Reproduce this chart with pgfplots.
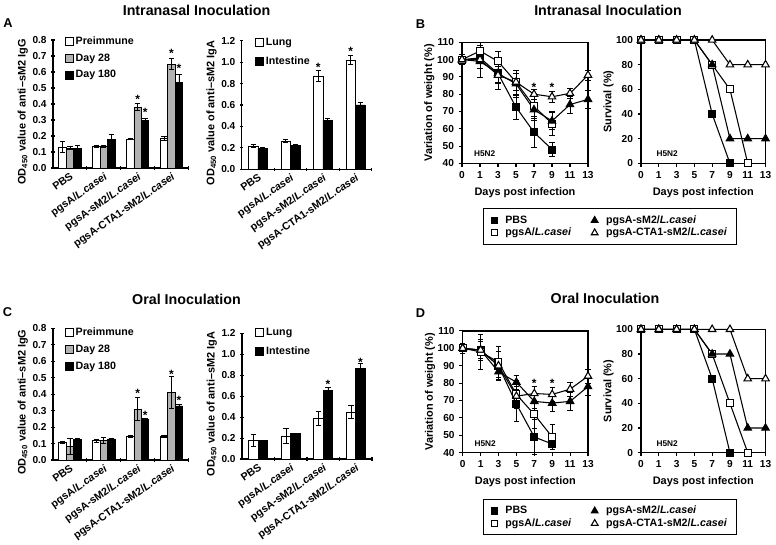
\documentclass[border=0pt]{standalone}
\usepackage{pgfplots}
\pgfplotsset{compat=1.18}
\usepackage{fontspec}
\setmainfont{Liberation Sans}
\definecolor{bargray}{RGB}{178,178,178}
\newcommand{\Lc}{\textit{L.casei}}
\newcommand{\fT}{\fontsize{10.7}{12}\selectfont\bfseries}
\newcommand{\fL}{\fontsize{8.2}{9.5}\selectfont\bfseries}
\newcommand{\fK}{\fontsize{7.6}{9}\selectfont\bfseries}
\newcommand{\fG}{\fontsize{8}{9}\selectfont\bfseries}
\newcommand{\fS}{\fontsize{6.2}{7}\selectfont\bfseries}
\pgfplotsset{
  base/.style={scale only axis, clip=false,
    tick label style={font=\fK},
    /pgf/number format/assume math mode=true,
    label style={font=\fL},
    tick align=outside, major tick length=2.5pt, minor tick length=2.5pt,
    tick style={black, line width=0.8pt},
    axis line style={line width=0.9pt},
  },
  barax/.style={base, axis lines=left, axis line style={-},
    xmin=-0.5, xmax=3.5, ymin=0,
    xtick={0,1,2,3},
    xticklabels={PBS,pgsA/\Lc,pgsA-sM2/\Lc,pgsA-CTA1-sM2/\Lc},
    major x tick style={draw=none},
    minor xtick={0.5,1.5,2.5,3.5},
    xticklabel style={rotate=35, anchor=north east, inner sep=1pt, font=\fG},
    yticklabel style={/pgf/number format/fixed, /pgf/number format/fixed zerofill, /pgf/number format/precision=1},
    ylabel style={yshift=-3.5pt, xshift=-6pt},
    legend style={draw=none, fill=none, font=\fG, anchor=north west, inner sep=0pt, row sep=2.5pt, nodes={inner sep=1.5pt}},
    legend cell align=left,
    legend image code/.code={\draw[##1, line width=0.7pt] (0pt,-3pt) rectangle (6pt,3pt);},
  },
  bb/.style={ybar, bar width=#1, bar shift=0pt, draw=black, line width=0.6pt,
    error bars/.cd, y dir=both, y explicit,
    error bar style={line width=0.6pt, black},
    error mark options={rotate=90, mark size=2pt, line width=0.6pt, black},
    /pgfplots/.cd},
  star/.style={draw=none, mark=none, forget plot, nodes near coords={*},
    every node near coord/.append style={anchor=center, inner sep=0pt, font=\fontsize{9}{9}\selectfont\bfseries}},
  lineax/.style={base, xmin=0, xmax=7, xtick={0,1,2,3,4,5,6,7},
    xticklabels={0,1,3,5,7,9,11,13}, tick pos=left,
    xlabel={Days post infection}, ylabel style={yshift=-5pt}},
  wax/.style={lineax, ymin=40, ymax=110, ytick={40,50,60,70,80,90,100,110},
    ylabel={Variation of weight (\%)}},
  sax/.style={lineax, ymin=0, ymax=100, ytick={0,20,40,60,80,100},
    ylabel={Survival (\%)}},
  ln/.style={black, line width=0.8pt, forget plot,
    error bars/.cd, y dir=both, y explicit,
    error bar style={line width=0.6pt, black},
    error mark options={rotate=90, mark size=2pt, line width=0.6pt, black},
    /pgfplots/.cd},
  fsq/.style={ln, mark=square*, mark size=2.6pt, mark options={fill=black}},
  osq/.style={ln, mark=square*, mark size=2.6pt, mark options={fill=white}},
  ftr/.style={ln, mark=triangle*, mark size=3.2pt, mark options={fill=black}},
  otr/.style={ln, mark=triangle*, mark size=3.2pt, mark options={fill=white}},
  markleg/.style={legend image code/.code={\draw[##1] plot coordinates {(3pt,0pt)};}},
  linelegend/.style={legend columns=2, transpose legend, legend cell align=left,
    legend style={draw=black, line width=0.8pt, fill=white, font=\fG,
      inner xsep=6pt, inner ysep=4pt, row sep=0pt, nodes={inner sep=1pt},
      /tikz/every odd column/.append style={column sep=5pt},
      /tikz/every even column/.append style={column sep=14pt}}},
}
\begin{document}
\begin{tikzpicture}
\useasboundingbox (0pt,0pt) rectangle (582pt,408pt);
% titles and letters
\node[font=\fT] at (147.4pt,400.5pt) {Intranasal Inoculation};
\node[font=\fT] at (456pt,400.5pt) {Intranasal Inoculation};
\node[font=\fT] at (139.9pt,183.75pt) {Oral Inoculation};
\node[font=\fT] at (453.75pt,184.5pt) {Oral Inoculation};
\node[font=\fontsize{9.6}{11}\selectfont\bfseries] at (6pt,391pt) {A};
\node[font=\fontsize{9.6}{11}\selectfont\bfseries] at (315.4pt,390pt) {B};
\node[font=\fontsize{9.6}{11}\selectfont\bfseries] at (5.6pt,173.6pt) {C};
\node[font=\fontsize{9.6}{11}\selectfont\bfseries] at (315.4pt,172.9pt) {D};

% ---------------- A IgG
\begin{axis}[barax, at={(39.75pt,282pt)}, anchor=south west, width=101.6pt, height=96pt,
  ymax=0.8, ytick={0,0.1,0.2,0.3,0.4,0.5,0.6,0.7,0.8},
  ylabel={OD\textsubscript{450} value of anti\textendash sM2 IgG},
  legend style={at={(0.085,1.045)}}]
\addplot[bb=0.22, fill=white] coordinates {(-0.22,0.13) +- (0,0.035) (0.78,0.135) +- (0,0.006) (1.78,0.18) +- (0,0.004) (2.78,0.185) +- (0,0.01)};
\addlegendentry{Preimmune}
\addplot[bb=0.22, fill=bargray] coordinates {(0,0.125) +- (0,0.008) (1,0.135) +- (0,0.005) (2,0.38) +- (0,0.022) (3,0.65) +- (0,0.033)};
\addlegendentry{Day 28}
\addplot[bb=0.22, fill=black] coordinates {(0.22,0.12) +- (0,0.022) (1.22,0.18) +- (0,0.03) (2.22,0.30) +- (0,0.008) (3.22,0.535) +- (0,0.05)};
\addlegendentry{Day 180}
\addplot[star] coordinates {(2,0.43) (2.22,0.345) (3,0.715) (3.22,0.625)};
\end{axis}

% ---------------- A IgA
\begin{axis}[barax, at={(181.3pt,281pt)}, anchor=south west, width=97.5pt, height=96.5pt,
  ymax=1.2, ytick={0,0.2,0.4,0.6,0.8,1.0,1.2},
  ylabel={OD\textsubscript{450} value of anti\textendash sM2 IgA},
  legend style={at={(0.10,1.04)}, row sep=4pt}]
\addplot[bb=0.29, fill=white] coordinates {(-0.145,0.218) +- (0,0.012) (0.855,0.264) +- (0,0.012) (1.855,0.87) +- (0,0.05) (2.855,1.02) +- (0,0.046)};
\addlegendentry{Lung}
\addplot[bb=0.29, fill=black] coordinates {(0.145,0.196) +- (0,0.008) (1.145,0.22) +- (0,0.008) (2.145,0.46) +- (0,0.015) (3.145,0.6) +- (0,0.028)};
\addlegendentry{Intestine}
\addplot[star] coordinates {(1.855,0.955) (2.855,1.10)};
\end{axis}

% ---------------- C IgG
\begin{axis}[barax, at={(39.75pt,63pt)}, anchor=south west, width=101.6pt, height=98.8pt,
  ymax=0.8, ytick={0,0.1,0.2,0.3,0.4,0.5,0.6,0.7,0.8},
  ylabel={OD\textsubscript{450} value of anti\textendash sM2 IgG},
  legend style={at={(0.085,1.02)}}]
\addplot[bb=0.22, fill=white] coordinates {(-0.22,0.105) +- (0,0.005) (0.78,0.117) +- (0,0.01) (1.78,0.145) +- (0,0.005) (2.78,0.145) +- (0,0.005)};
\addlegendentry{Preimmune}
\addplot[bb=0.22, fill=bargray] coordinates {(0,0.081) +- (0,0.05) (1,0.12) +- (0,0.02) (2,0.308) +- (0,0.07) (3,0.41) +- (0,0.095)};
\addlegendentry{Day 28}
\addplot[bb=0.22, fill=black] coordinates {(0.22,0.126) +- (0,0.003) (1.22,0.128) +- (0,0.006) (2.22,0.247) +- (0,0.005) (3.22,0.328) +- (0,0.008)};
\addlegendentry{Day 180}
\addplot[star] coordinates {(2,0.403) (2.22,0.268) (3,0.521) (3.22,0.363)};
\end{axis}

% ---------------- C IgA
\begin{axis}[barax, at={(181.5pt,63.75pt)}, anchor=south west, width=97.5pt, height=94.3pt,
  ymax=1.2, ytick={0,0.2,0.4,0.6,0.8,1.0,1.2},
  ylabel={OD\textsubscript{450} value of anti\textendash sM2 IgA},
  legend style={at={(0.10,1.058)}, row sep=4pt}]
\addplot[bb=0.29, fill=white] coordinates {(-0.145,0.177) +- (0,0.058) (0.855,0.218) +- (0,0.07) (1.855,0.388) +- (0,0.065) (2.855,0.449) +- (0,0.065)};
\addlegendentry{Lung}
\addplot[bb=0.29, fill=black] coordinates {(0.145,0.177) +- (0,0.004) (1.145,0.244) +- (0,0.005) (2.145,0.658) +- (0,0.026) (3.145,0.867) +- (0,0.041)};
\addlegendentry{Intestine}
\addplot[star] coordinates {(2.145,0.713) (3.145,0.92)};
\end{axis}

% ---------------- B weight
\begin{axis}[wax, at={(346.5pt,285.5pt)}, anchor=south west, width=94.5pt, height=90.75pt,
  linelegend, legend style={at={(0.164,-0.372)}, anchor=north west}]
\addplot[fsq] coordinates {(0,100) +- (0,3) (1,101) +- (0,6) (2,92) +- (0,5) (3,72.5) +- (0,7) (4,58) +- (0,9) (5,48) +- (0,4)};
\addplot[osq] coordinates {(0,100) +- (0,2) (1,105) +- (0,5) (2,99) +- (0,6) (3,87) +- (0,7) (4,73) +- (0,7) (5,63) +- (0,7)};
\addplot[ftr] coordinates {(0,100) +- (0,2) (1,99) +- (0,9) (2,92) +- (0,9) (3,86) +- (0,8) (4,71) +- (0,6) (5,64.5) +- (0,5) (6,74) +- (0,5) (7,77) +- (0,5)};
\addplot[otr] coordinates {(0,100) +- (0,2) (1,100) +- (0,5) (2,91) +- (0,5) (3,87) +- (0,5) (4,80) +- (0,3) (5,78.5) +- (0,3) (6,80.5) +- (0,3) (7,91) +- (0,3)};
\addplot[star] coordinates {(4,84.2) (5,84.2)};
\node[font=\fS] at (rel axis cs:0.18,0.077) {H5N2};
\addlegendimage{markleg, only marks, black, mark=square*, mark size=2.3pt, mark options={fill=black}}
\addlegendentry{PBS}
\addlegendimage{markleg, only marks, black, mark=square*, mark size=2.3pt, mark options={fill=white}}
\addlegendentry{pgsA/\Lc}
\addlegendimage{markleg, only marks, black, mark=triangle*, mark size=2.9pt, mark options={fill=black}}
\addlegendentry{pgsA-sM2/\Lc}
\addlegendimage{markleg, only marks, black, mark=triangle*, mark size=2.9pt, mark options={fill=white}}
\addlegendentry{pgsA-CTA1-sM2/\Lc}
\end{axis}

% ---------------- B survival
\begin{axis}[sax, at={(480.75pt,285.5pt)}, anchor=south west, width=93.4pt, height=92.5pt]
\addplot[fsq] coordinates {(0,100) (1,100) (2,100) (3,100) (4,40) (5,0)};
\addplot[osq] coordinates {(0,100) (1,100) (2,100) (3,100) (4,80) (5,60) (6,0)};
\addplot[ftr] coordinates {(0,100) (1,100) (2,100) (3,100) (4,80) (5,20) (6,20) (7,20)};
\addplot[otr] coordinates {(0,100) (1,100) (2,100) (3,100) (4,100) (5,80) (6,80) (7,80)};
\node[font=\fS] at (rel axis cs:0.21,0.075) {H5N2};
\end{axis}

% ---------------- D weight
\begin{axis}[wax, at={(347pt,68.5pt)}, anchor=south west, width=94pt, height=91.3pt,
  linelegend, legend style={at={(0.16,-0.38)}, anchor=north west}]
\addplot[fsq] coordinates {(0,100) +- (0,3) (1,99) +- (0,6) (2,90) +- (0,8) (3,68) +- (0,10) (4,49) +- (0,10) (5,45) +- (0,3)};
\addplot[osq] coordinates {(0,100) +- (0,2) (1,98) +- (0,10) (2,92) +- (0,9) (3,73.5) +- (0,8) (4,62) +- (0,8) (5,49) +- (0,7)};
\addplot[ftr] coordinates {(0,100) +- (0,2) (1,99) +- (0,5) (2,86.5) +- (0,5) (3,80.5) +- (0,4) (4,69.5) +- (0,4) (5,68.5) +- (0,5) (6,69.5) +- (0,5) (7,78) +- (0,5)};
\addplot[otr] coordinates {(0,100) +- (0,2) (1,99) +- (0,5) (2,90) +- (0,4) (3,72.5) +- (0,4) (4,74) +- (0,4) (5,73.5) +- (0,4) (6,76.5) +- (0,4) (7,84) +- (0,4)};
\addplot[star] coordinates {(4,79.8) (5,79.8)};
\node[font=\fS] at (rel axis cs:0.18,0.077) {H5N2};
\addlegendimage{markleg, only marks, black, mark=square*, mark size=2.3pt, mark options={fill=black}}
\addlegendentry{PBS}
\addlegendimage{markleg, only marks, black, mark=square*, mark size=2.3pt, mark options={fill=white}}
\addlegendentry{pgsA/\Lc}
\addlegendimage{markleg, only marks, black, mark=triangle*, mark size=2.9pt, mark options={fill=black}}
\addlegendentry{pgsA-sM2/\Lc}
\addlegendimage{markleg, only marks, black, mark=triangle*, mark size=2.9pt, mark options={fill=white}}
\addlegendentry{pgsA-CTA1-sM2/\Lc}
\end{axis}

% ---------------- D survival
\begin{axis}[sax, at={(480.75pt,68.5pt)}, anchor=south west, width=93.4pt, height=92.5pt]
\addplot[fsq] coordinates {(0,100) (1,100) (2,100) (3,100) (4,60) (5,0)};
\addplot[osq] coordinates {(0,100) (1,100) (2,100) (3,100) (4,80) (5,40) (6,0)};
\addplot[ftr] coordinates {(0,100) (1,100) (2,100) (3,100) (4,80) (5,80) (6,20) (7,20)};
\addplot[otr] coordinates {(0,100) (1,100) (2,100) (3,100) (4,100) (5,100) (6,60) (7,60)};
\node[font=\fS] at (rel axis cs:0.21,0.077) {H5N2};
\end{axis}
\end{tikzpicture}
\end{document}
